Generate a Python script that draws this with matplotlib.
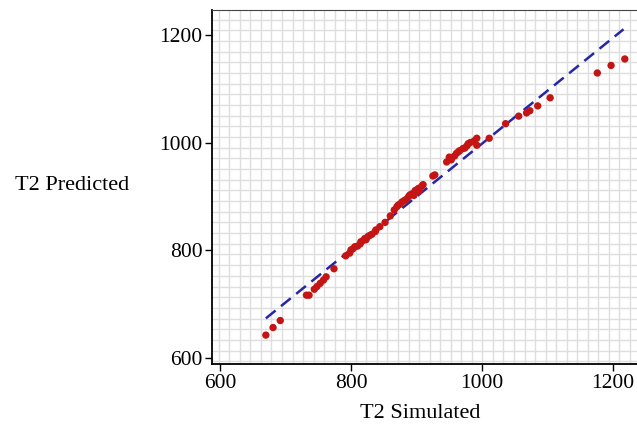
import numpy as np
import matplotlib
matplotlib.use("Agg")
import matplotlib.pyplot as plt

# simulated vs predicted T2 values
t2_simulated = [670, 681, 692, 732, 736, 744, 748, 753, 758, 762, 774,
                792, 798, 800, 803, 806, 810, 814, 815, 818, 821, 823, 826,
                829, 832, 837, 838, 844, 852, 860, 866, 870, 872, 875, 878,
                882, 885, 888, 890, 893, 896, 898, 900, 903, 904, 908, 910,
                925, 928, 946, 950, 953, 958, 961, 964, 966, 971, 974, 977,
                979, 982, 988, 992, 992, 1011, 1036, 1056, 1068, 1073, 1085,
                1104, 1176, 1197, 1218]
t2_predicted = [643, 657, 670, 717, 717, 728, 733, 739, 745, 751, 766,
                790, 795, 801, 803, 807, 808, 812, 816, 818, 822, 820, 826,
                828, 830, 835, 838, 844, 852, 864, 875, 881, 884, 886, 890,
                893, 895, 900, 903, 905, 902, 911, 912, 915, 910, 919, 922,
                938, 940, 964, 973, 968, 975, 980, 983, 985, 989, 990, 994,
                998, 1000, 1003, 1008, 995, 1008, 1035, 1049, 1055, 1059,
                1068, 1083, 1129, 1143, 1155]

# fitted trend line
fit_x = [670, 1216]
fit_y = [674, 1210]

ticks = [600, 800, 1000, 1200]

fig = plt.figure(figsize=(6.37, 4.28), dpi=100)
ax = fig.add_axes([212 / 637, 64 / 428, 425 / 637, 354 / 428])

ax.set_xlim(587.8, 1236.6)
ax.set_ylim(589.4, 1245.8)

# fine background grid
for gx in np.arange(598, 1240, 16.1):
    ax.axvline(gx, color="#dedede", lw=1.0, zorder=0)
for gy in np.arange(594.5, 1250, 19.8):
    ax.axhline(gy, color="#dedede", lw=1.0, zorder=0)

ax.plot(fit_x, fit_y, color="#2626a6", lw=1.8, ls=(0, (5, 2.8)), zorder=2)
ax.scatter(t2_simulated, t2_predicted, s=28, color="#c41414", edgecolors="none", zorder=3)

ax.set_xticks(ticks)
ax.set_yticks(ticks)
ax.tick_params(direction="out", length=5, width=1, colors="black",
               labelsize=15.5, pad=2)
for lab in ax.get_xticklabels() + ax.get_yticklabels():
    lab.set_family("Liberation Serif")

ax.spines["left"].set_linewidth(1.3)
ax.spines["bottom"].set_linewidth(1.3)
ax.spines["top"].set_color("#444444")
ax.spines["right"].set_visible(False)

fig.text(420 / 637, 1 - 414 / 428, "T2 Simulated", ha="center", va="center",
         fontsize=16, family="Liberation Serif")
fig.text(15 / 637, 1 - 186 / 428, "T2 Predicted", ha="left", va="center",
         fontsize=16, family="Liberation Serif")

fig.savefig("out.png", dpi=100)
